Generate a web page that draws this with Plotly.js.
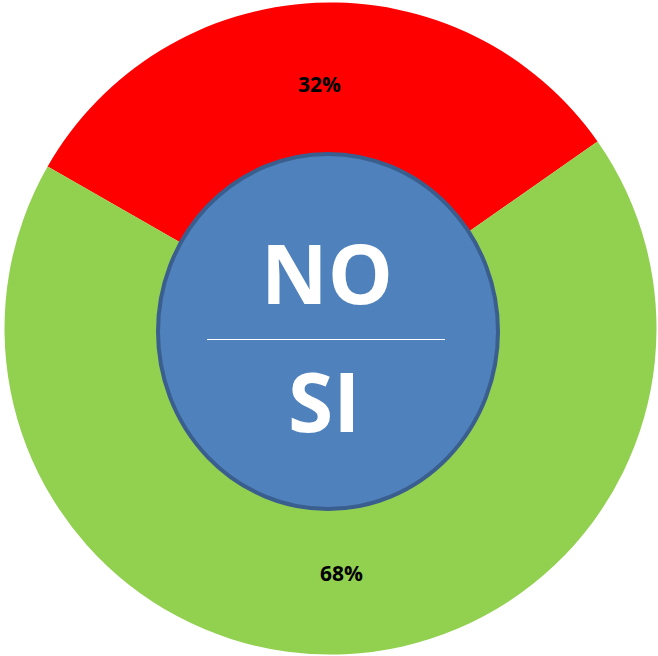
<!DOCTYPE html>
<html>
<head>
<meta charset="utf-8">
<script src="https://cdn.plot.ly/plotly-3.0.1.min.js"></script>
<style>html,body{margin:0;padding:0;background:#fff;}#chart{width:658px;height:656px;}</style>
</head>
<body>
<div id="chart"></div>
<script>
const categories = ['NO', 'SI'];
const shares = [32, 68];
const sliceColors = ['#FF0000', '#92D050'];
const centerTop = 'NO';
const centerBottom = 'SI';

const W = 658, H = 656;
const px = x => x / W;
const py = y => (H - y) / H;

const trace = {
  type: 'pie',
  labels: categories,
  values: shares,
  sort: false,
  direction: 'clockwise',
  rotation: -60.2,
  hole: 0.5,
  marker: {colors: sliceColors, line: {width: 0}},
  textinfo: 'percent',
  texttemplate: '%{percent:.0%}',
  textposition: 'inside',
  insidetextorientation: 'horizontal',
  textfont: {family: '"Open Sans", sans-serif', size: 21, color: '#000000', weight: 'bold'},
  hoverinfo: 'none',
  showlegend: false,
  domain: {x: [px(330.5 - 326), px(330.5 + 326)], y: [py(328.5 + 326), py(328.5 - 326)]}
};

const layout = {
  width: W, height: H,
  margin: {l: 0, r: 0, t: 0, b: 0},
  paper_bgcolor: '#ffffff',
  showlegend: false,
  shapes: [
    {type: 'circle', xref: 'paper', yref: 'paper', layer: 'above',
     x0: px(158), x1: px(498), y0: py(509), y1: py(154),
     fillcolor: '#4F81BD', line: {color: '#3A5F8E', width: 4}},
    {type: 'line', xref: 'paper', yref: 'paper', layer: 'above',
     x0: px(207), x1: px(445), y0: py(339.5), y1: py(339.5),
     line: {color: '#ffffff', width: 1}}
  ],
  annotations: [
    {text: centerTop, xref: 'paper', yref: 'paper', x: px(327), y: py(272),
     xanchor: 'center', yanchor: 'middle', showarrow: false,
     font: {family: '"Open Sans", sans-serif', size: 82, color: '#ffffff', weight: 'bold'}},
    {text: centerBottom, xref: 'paper', yref: 'paper', x: px(324), y: py(400),
     xanchor: 'center', yanchor: 'middle', showarrow: false,
     font: {family: '"Open Sans", sans-serif', size: 82, color: '#ffffff', weight: 'bold'}}
  ]
};

Plotly.newPlot('chart', [trace], layout, {displayModeBar: false, staticPlot: true});
</script>
</body>
</html>
